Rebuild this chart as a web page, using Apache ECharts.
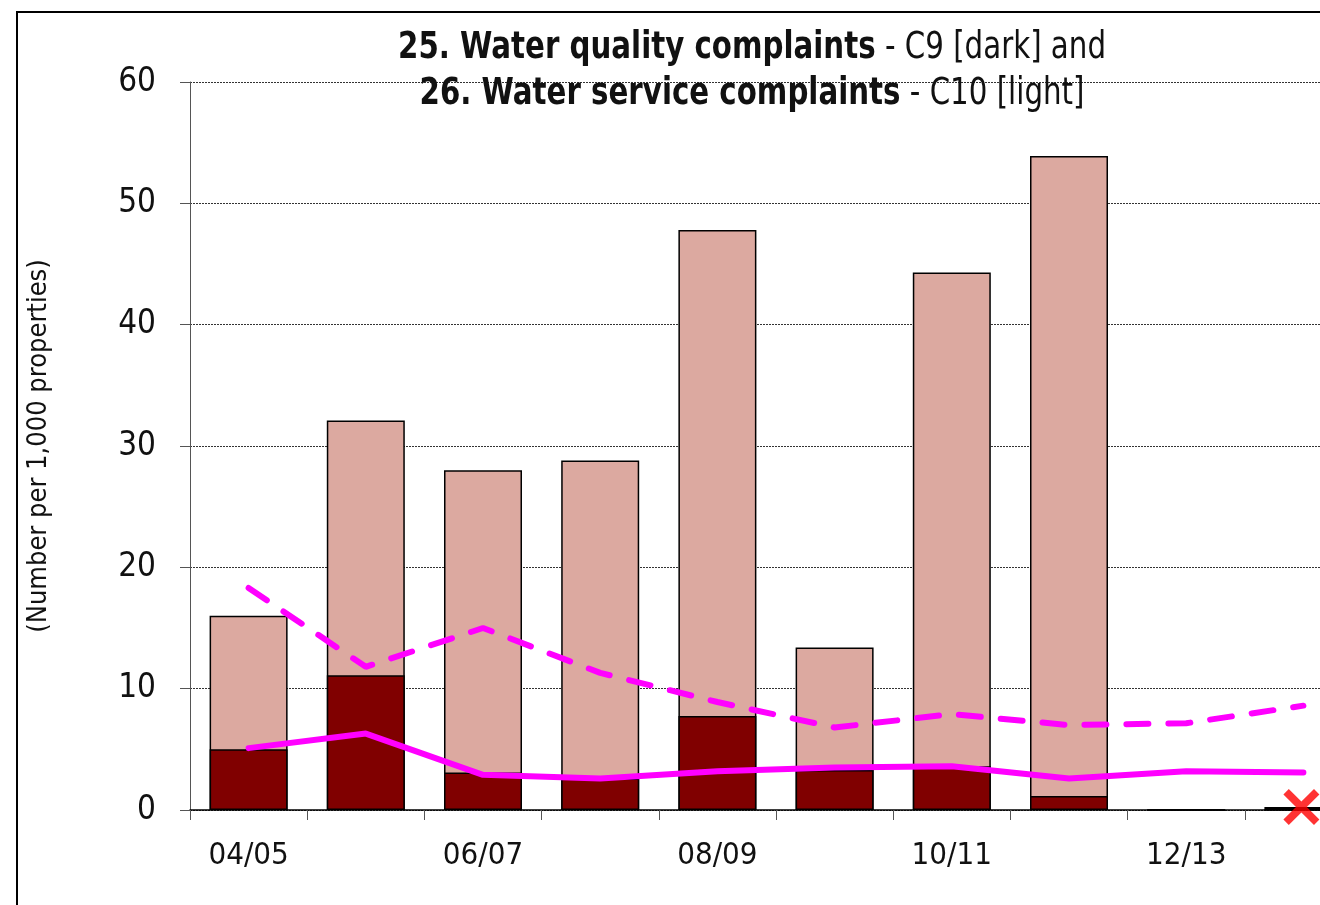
<!DOCTYPE html>
<html>
<head>
<meta charset="utf-8">
<script src="https://cdn.jsdelivr.net/npm/echarts@6/dist/echarts.min.js"></script>
<style>
  html, body { margin: 0; padding: 0; background: #fff; overflow: hidden; }
  #frame { position: absolute; left: 16px; top: 11px; width: 1400px; height: 1000px; border: 2px solid #000; }
  #chart { position: absolute; left: 0; top: 0; width: 1400px; height: 905px; }
</style>
</head>
<body>
<div id="frame"></div>
<div id="chart"></div>
<script>
const categories = ["04/05", "05/06", "06/07", "07/08", "08/09", "09/10", "10/11", "11/12", "12/13", "13/14"];
// C10 service complaints (light bars) and C9 quality complaints (dark bars)
const serviceBars = [16.0, 32.1, 28.0, 28.8, 47.8, 13.4, 44.3, 53.9, 0, 0];
const qualityBars = [5.0, 11.1, 3.1, 2.6, 7.75, 3.3, 3.6, 1.15, 0, 0.25];
// magenta comparison lines
const serviceLine = [18.3, 11.8, 15.0, 11.3, 8.9, 6.8, 7.9, 7.0, 7.15, 8.6];
const qualityLine = [5.1, 6.3, 2.9, 2.6, 3.2, 3.5, 3.6, 2.6, 3.2, 3.1];
const crossMarks = ["-", "-", "-", "-", "-", "-", "-", "-", "-", 0];

const FONT = "'Liberation Sans Narrow', 'DejaVu Sans Condensed', 'Liberation Sans', sans-serif";

const chart = echarts.init(document.getElementById("chart"));

chart.setOption({
  backgroundColor: "transparent",
  animation: false,
  textStyle: { fontFamily: FONT },
  grid: { left: 190, top: 82, width: 1172, height: 728, containLabel: false },
  graphic: [
    {
      type: "text",
      x: 752,
      y: 25,
      scaleX: 0.88,
      z: 100,
      style: {
        text: "{b|25. Water quality complaints}{n| - C9 [dark] and}\n{b|26. Water service complaints}{n| - C10 [light]}",
        align: "center",
        fill: "#111",
        rich: {
          b: { fontFamily: FONT, fontWeight: "bold", fontSize: 37, lineHeight: 46, fill: "#111" },
          n: { fontFamily: FONT, fontSize: 37, lineHeight: 46, fill: "#111" },
        },
      },
    },
  ],
  xAxis: {
    type: "category",
    data: categories,
    axisLine: { lineStyle: { color: "#000", width: 1.5 } },
    axisTick: { show: true, interval: 0, length: 10, lineStyle: { color: "#555" } },
    axisLabel: { interval: 1, color: "#111", fontSize: 31, margin: 30, fontFamily: FONT },
  },
  yAxis: {
    type: "value",
    min: 0,
    max: 60,
    interval: 10,
    name: "(Number per 1,000 properties)",
    nameLocation: "middle",
    nameGap: 138,
    nameTextStyle: { fontSize: 27, color: "#111", fontFamily: FONT },
    axisLine: { show: true, lineStyle: { color: "#555", width: 1 } },
    axisTick: { show: true, length: 10, lineStyle: { color: "#555" } },
    axisLabel: { color: "#111", fontSize: 33, margin: 34, fontFamily: FONT },
    splitLine: { lineStyle: { color: "#333", width: 1, type: [2, 1] } },
  },
  series: [
    {
      name: "Water service complaints",
      type: "bar",
      data: serviceBars,
      barWidth: 78,
      barGap: "-100%",
      itemStyle: { color: "#DCA9A0", borderColor: "#000", borderWidth: 1.5 },
      z: 2,
    },
    {
      name: "Water quality complaints",
      type: "bar",
      data: qualityBars,
      barWidth: 78,
      barGap: "-100%",
      itemStyle: { color: "#800000", borderColor: "#000", borderWidth: 1.5 },
      z: 3,
    },
    {
      name: "Service average",
      type: "line",
      data: serviceLine,
      symbol: "none",
      lineStyle: { color: "#FF00FF", width: 6, type: [22, 20], cap: "round" },
      z: 5,
    },
    {
      name: "Quality average",
      type: "line",
      data: qualityLine,
      symbol: "none",
      lineStyle: { color: "#FF00FF", width: 6, cap: "round" },
      z: 5,
    },
    {
      name: "Missing",
      type: "scatter",
      data: crossMarks,
      symbol: "path://M0,1.5 L1.5,0 L5,3.5 L8.5,0 L10,1.5 L6.5,5 L10,8.5 L8.5,10 L5,6.5 L1.5,10 L0,8.5 L3.5,5 Z",
      symbolSize: [36, 36],
      symbolOffset: [-2, -3],
      itemStyle: { color: "#FF0000" },
      z: 10,
    },
  ],
});
</script>
</body>
</html>
